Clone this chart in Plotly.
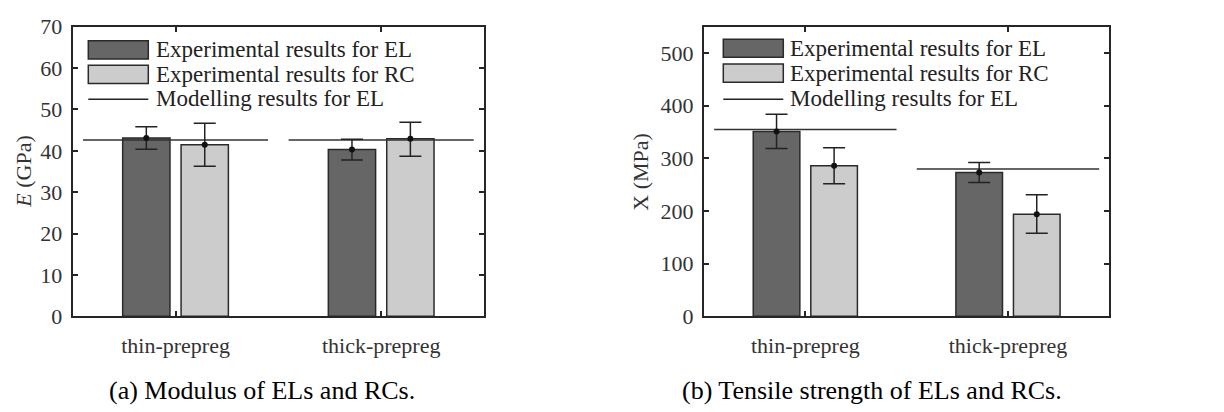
import plotly.graph_objects as go

# ---------------- data ----------------
categories = ["thin-prepreg", "thick-prepreg"]

# (a) Modulus E (GPa)
E_el = [43.1, 40.3]
E_el_plus = [2.7, 2.5]
E_el_minus = [2.7, 2.5]
E_rc = [41.5, 42.9]
E_rc_plus = [5.2, 4.0]
E_rc_minus = [5.2, 4.2]
E_model = [42.6, 42.6]

# (b) Tensile strength X (MPa)
X_el = [351, 273]
X_el_plus = [33, 19]
X_el_minus = [32, 19]
X_rc = [286, 194]
X_rc_plus = [34, 37]
X_rc_minus = [34, 36]
X_model = [355, 280]

legend_labels = ["Experimental results for EL", "Experimental results for RC", "Modelling results for EL"]
y_titles = ["<i>E</i> (GPa)", "X (MPa)"]
captions = ["(a) Modulus of ELs and RCs.", "(b) Tensile strength of ELs and RCs."]

# ---------------- style ----------------
W, H = 1224, 412
DARK = "#666666"
LIGHT = "#cccccc"
EDGE = "#2a2a2a"
AX = "#262626"
FONT = "Liberation Serif"
BAR_W = 0.23
OFF_EL = -0.257
OFF_RC = 0.027
HALF_LINE = 0.45

def px2x(p):
    return p / W

def px2y(p):
    return (H - p) / H

fig = go.Figure()

panels = [
    dict(el=E_el, elp=E_el_plus, elm=E_el_minus, rc=E_rc, rcp=E_rc_plus, rcm=E_rc_minus,
         model=E_model, xa="x", ya="y"),
    dict(el=X_el, elp=X_el_plus, elm=X_el_minus, rc=X_rc, rcp=X_rc_plus, rcm=X_rc_minus,
         model=X_model, xa="x2", ya="y2"),
]

idx = list(range(len(categories)))
for p in panels:
    fig.add_trace(go.Bar(x=idx, y=p["el"], width=BAR_W, offset=OFF_EL,
                         marker=dict(color=DARK, line=dict(color=EDGE, width=1.5)),
                         xaxis=p["xa"], yaxis=p["ya"], showlegend=False))
    fig.add_trace(go.Bar(x=idx, y=p["rc"], width=BAR_W, offset=OFF_RC,
                         marker=dict(color=LIGHT, line=dict(color=EDGE, width=1.5)),
                         xaxis=p["xa"], yaxis=p["ya"], showlegend=False))
    # modelling lines
    lx, ly = [], []
    for i, v in zip(idx, p["model"]):
        lx += [i - HALF_LINE, i + HALF_LINE, None]
        ly += [v, v, None]
    fig.add_trace(go.Scatter(x=lx, y=ly, mode="lines", line=dict(color="#333333", width=1.5),
                             xaxis=p["xa"], yaxis=p["ya"], showlegend=False, hoverinfo="skip"))
    # error bars with dots
    for vals, plus, minus, off in [(p["el"], p["elp"], p["elm"], OFF_EL),
                                   (p["rc"], p["rcp"], p["rcm"], OFF_RC)]:
        fig.add_trace(go.Scatter(
            x=[i + off + BAR_W / 2 for i in idx], y=vals, mode="markers",
            marker=dict(color="#111111", size=6),
            error_y=dict(type="data", symmetric=False, array=plus, arrayminus=minus,
                         color="#222222", thickness=1.5, width=11),
            xaxis=p["xa"], yaxis=p["ya"], showlegend=False))

axis_common = dict(showline=True, linecolor=AX, linewidth=2, mirror="ticks",
                   ticks="inside", ticklen=5, tickwidth=2, tickcolor=AX,
                   showgrid=False, zeroline=False,
                   tickfont=dict(family=FONT, size=22, color="#333333"))

fig.update_layout(
    width=W, height=H, margin=dict(l=0, r=0, t=0, b=0),
    paper_bgcolor="white", plot_bgcolor="white",
    barmode="overlay", showlegend=False,
    xaxis=dict(domain=[px2x(72.7), px2x(484)], range=[-0.5, 1.5],
               tickvals=idx, ticktext=categories, anchor="y", ticklabelstandoff=8, **axis_common),
    yaxis=dict(domain=[px2y(324), px2y(15.7)], range=[0, 70], dtick=10,
               anchor="x", ticklabelstandoff=4, **axis_common),
    xaxis2=dict(domain=[px2x(704), px2x(1109.3)], range=[-0.5, 1.5],
                tickvals=idx, ticktext=categories, anchor="y2", ticklabelstandoff=8, **axis_common),
    yaxis2=dict(domain=[px2y(324), px2y(15.7)], range=[0, 550], tickvals=[0, 100, 200, 300, 400, 500],
                anchor="x2", ticklabelstandoff=4, **axis_common),
)

# ---------------- legends (drawn manually) ----------------
legend_pos = [dict(x0=88.3, x1=148.3, rows=[(30.7, 50.0), (56.7, 76.0)], line_y=93, tx=154),
              dict(x0=723.3, x1=783.3, rows=[(29.0, 48.3), (55.3, 74.7)], line_y=93, tx=788)]
shapes = []
annotations = []
for lp in legend_pos:
    for (y0, y1), col in zip(lp["rows"], [DARK, LIGHT]):
        shapes.append(dict(type="rect", xref="paper", yref="paper",
                           x0=px2x(lp["x0"]), x1=px2x(lp["x1"]), y0=px2y(y1), y1=px2y(y0),
                           fillcolor=col, line=dict(color=EDGE, width=1.5)))
    shapes.append(dict(type="line", xref="paper", yref="paper",
                       x0=px2x(lp["x0"]), x1=px2x(lp["x1"]), y0=px2y(lp["line_y"]), y1=px2y(lp["line_y"]),
                       line=dict(color="#222222", width=1.5)))
    ys = [(r[0] + r[1]) / 2 for r in lp["rows"]] + [lp["line_y"] - 1]
    for lab, yy in zip(legend_labels, ys):
        annotations.append(dict(text=lab, x=px2x(lp["tx"]), y=px2y(yy), xref="paper", yref="paper",
                                xanchor="left", yanchor="middle", showarrow=False,
                                font=dict(family=FONT, size=23, color="#222222")))

# axis titles
for t, xc in zip(y_titles, [24, 641]):
    annotations.append(dict(text=t, x=px2x(xc), y=px2y(170), xref="paper", yref="paper",
                            textangle=-90, xanchor="center", yanchor="middle", showarrow=False,
                            font=dict(family=FONT, size=22, color="#333333")))
# captions
for t, xc in zip(captions, [262, 872]):
    annotations.append(dict(text=t, x=px2x(xc), y=px2y(403), xref="paper", yref="paper",
                            xanchor="center", yanchor="middle", showarrow=False,
                            font=dict(family="Liberation Serif", size=26, color="black")))

fig.update_layout(shapes=shapes, annotations=annotations)
fig.write_html("out.html")
